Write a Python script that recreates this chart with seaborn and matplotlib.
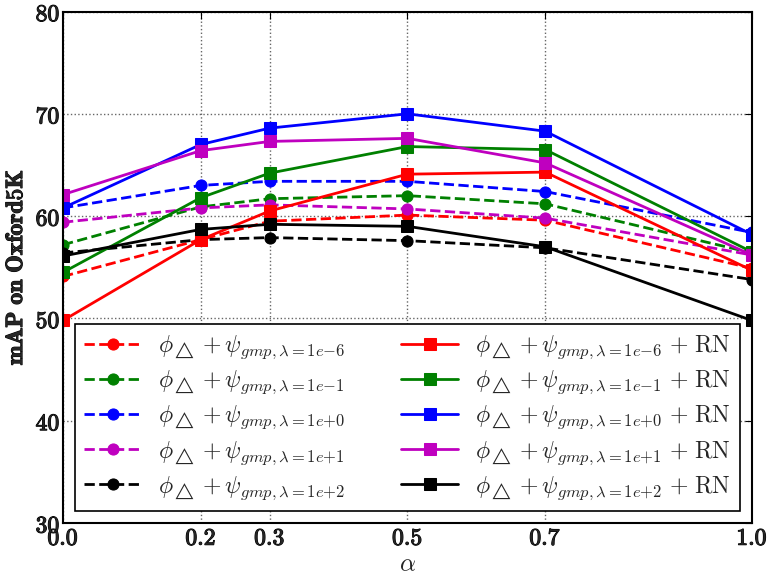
import matplotlib
matplotlib.use("Agg")
import matplotlib.pyplot as plt
import matplotlib.patheffects as pe
import seaborn as sns

# alpha values on the x axis
alpha = [0.0, 0.2, 0.3, 0.5, 0.7, 1.0]
lambdas = ["1e{-}6", "1e{-}1", "1e{+}0", "1e{+}1", "1e{+}2"]
colors = ["r", "g", "b", "m", "k"]

# phi + psi_gmp (dashed, circles)
gmp_1e_6 = [54.1, 57.7, 59.5, 60.1, 59.6, 54.9]
gmp_1e_1 = [57.2, 60.9, 61.7, 62.0, 61.2, 56.4]
gmp_1e0 = [60.8, 63.0, 63.4, 63.4, 62.4, 58.4]
gmp_1e1 = [59.4, 60.8, 61.1, 60.7, 59.8, 56.2]
gmp_1e2 = [56.4, 57.7, 57.9, 57.6, 56.9, 53.8]

# phi + psi_gmp + RN (solid, squares)
rn_1e_6 = [49.8, 57.7, 60.5, 64.1, 64.3, 54.7]
rn_1e_1 = [54.5, 61.8, 64.2, 66.8, 66.5, 56.5]
rn_1e0 = [60.8, 67.0, 68.6, 70.0, 68.3, 58.2]
rn_1e1 = [62.1, 66.4, 67.3, 67.6, 65.2, 56.2]
rn_1e2 = [56.1, 58.7, 59.2, 59.0, 57.0, 49.8]

gmp_series = [gmp_1e_6, gmp_1e_1, gmp_1e0, gmp_1e1, gmp_1e2]
rn_series = [rn_1e_6, rn_1e_1, rn_1e0, rn_1e1, rn_1e2]

sns.set_style("white")
plt.rcParams["mathtext.fontset"] = "cm"
plt.rcParams["font.family"] = ["DejaVu Sans"]
plt.rcParams["xtick.direction"] = "in"
plt.rcParams["ytick.direction"] = "in"

fig = plt.figure(figsize=(7.75, 5.81), dpi=100)
ax = fig.add_axes([0.0813, 0.0998, 0.8889, 0.8804])

for lam, col, vals in zip(lambdas, colors, gmp_series):
    lbl = r"$\phi_{\triangle}+\psi_{gmp,\lambda=" + lam + r"}$"
    sns.lineplot(x=alpha, y=vals, color=col, marker="o", markersize=8,
                 markeredgecolor=col, linestyle="--", linewidth=2,
                 label=lbl, ax=ax)

for lam, col, vals in zip(lambdas, colors, rn_series):
    lbl = (r"$\phi_{\triangle}+\psi_{gmp,\lambda=" + lam
           + r"}\ \mathbf{+}\ \mathrm{RN}$")
    sns.lineplot(x=alpha, y=vals, color=col, marker="s", markersize=8,
                 markeredgecolor=col, linestyle="-", linewidth=2,
                 label=lbl, ax=ax)

bold = [pe.withStroke(linewidth=0.8, foreground="k")]

ax.set_xlim(0, 1)
ax.set_ylim(30, 80)
ax.set_xticks(alpha)
ax.set_xticklabels([r"$\mathbf{%.1f}$" % a for a in alpha], fontsize=17)
yt = [30, 40, 50, 60, 70, 80]
ax.set_yticks(yt)
ax.set_yticklabels([r"$\mathbf{%d}$" % v for v in yt], fontsize=17)
for t in ax.get_xticklabels() + ax.get_yticklabels():
    t.set_path_effects(bold)
ax.tick_params(top=True, right=True, length=5, width=0.8, color="k", pad=2)
ax.grid(True, linestyle=":", color="0.4", linewidth=1)
for s in ax.spines.values():
    s.set_color("k")
    s.set_linewidth(1.5)

ax.set_xlabel(r"$\alpha$", fontsize=18, labelpad=2)
ylab = ax.set_ylabel(r"$\mathbf{mAP\ on\ Oxford5K}$", fontsize=17, labelpad=6)
ylab.set_path_effects(bold)

leg = ax.legend(loc="lower center", ncol=2, numpoints=1,
                prop={"size": 17},
                handlelength=2.4, handletextpad=0.7, columnspacing=2.4,
                labelspacing=0.3, borderpad=0.4, borderaxespad=0.5,
                fancybox=False, framealpha=1, edgecolor="k")
leg.get_frame().set_linewidth(1.2)

fig.savefig("out.png", dpi=100)
